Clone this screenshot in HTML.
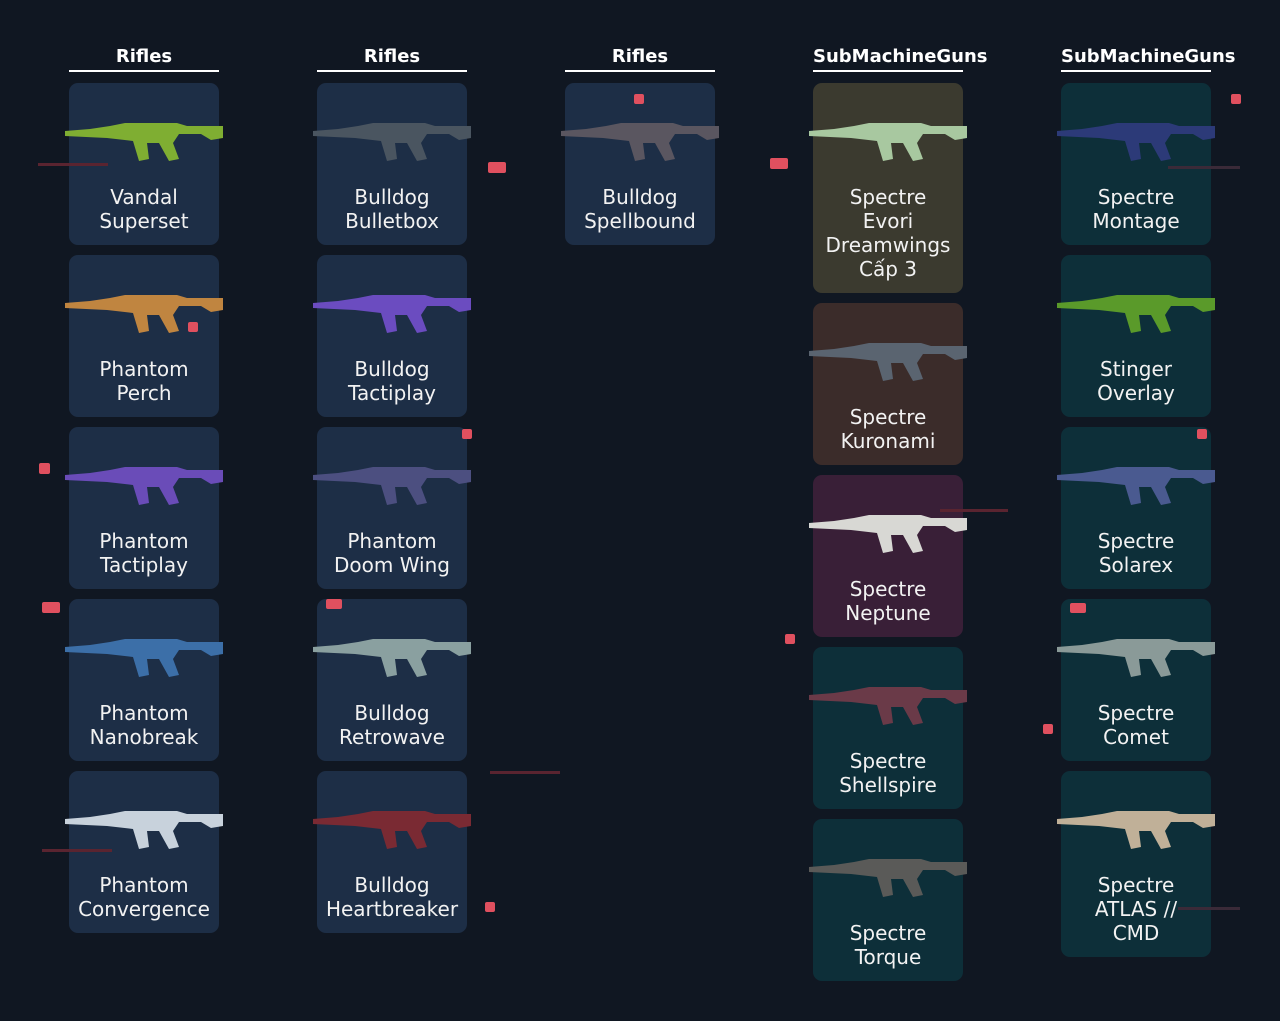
<!DOCTYPE html>
<html><head><meta charset="utf-8">
<style>
html,body{margin:0;padding:0;}
body{width:1280px;height:1021px;background:#101722;position:relative;overflow:hidden;font-family:"DejaVu Sans","Liberation Sans",sans-serif;}
.h{position:absolute;top:46px;width:150px;text-align:left;color:#fff;font-weight:bold;font-size:18px;line-height:22px;white-space:nowrap;}
.hc{text-align:center;}
.u{position:absolute;top:70px;width:150px;height:2px;background:#fff;}
.c{position:absolute;width:150px;border-radius:9px;}
.c .t{position:absolute;left:-10px;right:-10px;top:102px;text-align:center;color:#f2f2f2;font-size:20px;line-height:24px;}
.c svg{position:absolute;left:-4px;top:22px;}
.b{background:#1d2e46}.tl{background:#0d2f39}.ol{background:#3b3a2f}.br{background:#3b2c2a}.pu{background:#391f37}
.m{position:absolute;background:#e0505f;border-radius:2px;}
.l{position:absolute;height:3px;background:#5a2430;}
</style></head><body>
<svg width="0" height="0" style="position:absolute"><defs>
<path id="g" d="M0 26 L25 24 L45 21 L60 18 L112 18 L122 21 L158 21 L158 33 L146 35 L136 29 L114 29 L108 38 L114 54 L104 56 L94 38 L82 38 L84 54 L74 56 L68 36 L42 33 L0 31 Z"/>
</defs></svg>

<div class="h hc" style="left:69px">Rifles</div><div class="u" style="left:69px"></div>
<div class="h hc" style="left:317px">Rifles</div><div class="u" style="left:317px"></div>
<div class="h hc" style="left:565px">Rifles</div><div class="u" style="left:565px"></div>
<div class="h" style="left:813px">SubMachineGuns</div><div class="u" style="left:813px"></div>
<div class="h" style="left:1061px">SubMachineGuns</div><div class="u" style="left:1061px"></div>

<div class="c b" style="left:69px;top:83px;height:162px"><svg width="160" height="70"><use href="#g" fill="#7fae32"/></svg><div class="t">Vandal<br>Superset</div></div>
<div class="c b" style="left:69px;top:255px;height:162px"><svg width="160" height="70"><use href="#g" fill="#c08540"/></svg><div class="t">Phantom<br>Perch</div></div>
<div class="c b" style="left:69px;top:427px;height:162px"><svg width="160" height="70"><use href="#g" fill="#6a4cb8"/></svg><div class="t">Phantom<br>Tactiplay</div></div>
<div class="c b" style="left:69px;top:599px;height:162px"><svg width="160" height="70"><use href="#g" fill="#3c6fa8"/></svg><div class="t">Phantom<br>Nanobreak</div></div>
<div class="c b" style="left:69px;top:771px;height:162px"><svg width="160" height="70"><use href="#g" fill="#c8d2dc"/></svg><div class="t">Phantom<br>Convergence</div></div>
<div class="c b" style="left:317px;top:83px;height:162px"><svg width="160" height="70"><use href="#g" fill="#4a5560"/></svg><div class="t">Bulldog<br>Bulletbox</div></div>
<div class="c b" style="left:317px;top:255px;height:162px"><svg width="160" height="70"><use href="#g" fill="#6b4cc0"/></svg><div class="t">Bulldog<br>Tactiplay</div></div>
<div class="c b" style="left:317px;top:427px;height:162px"><svg width="160" height="70"><use href="#g" fill="#4c4f80"/></svg><div class="t">Phantom<br>Doom Wing</div></div>
<div class="c b" style="left:317px;top:599px;height:162px"><svg width="160" height="70"><use href="#g" fill="#8aa0a0"/></svg><div class="t">Bulldog<br>Retrowave</div></div>
<div class="c b" style="left:317px;top:771px;height:162px"><svg width="160" height="70"><use href="#g" fill="#7a2a33"/></svg><div class="t">Bulldog<br>Heartbreaker</div></div>
<div class="c b" style="left:565px;top:83px;height:162px"><svg width="160" height="70"><use href="#g" fill="#5a5660"/></svg><div class="t">Bulldog<br>Spellbound</div></div>
<div class="c ol" style="left:813px;top:83px;height:210px"><svg width="160" height="70"><use href="#g" fill="#a8c8a0"/></svg><div class="t">Spectre<br>Evori<br>Dreamwings<br>Cấp 3</div></div>
<div class="c br" style="left:813px;top:303px;height:162px"><svg width="160" height="70"><use href="#g" fill="#5a6470"/></svg><div class="t">Spectre<br>Kuronami</div></div>
<div class="c pu" style="left:813px;top:475px;height:162px"><svg width="160" height="70"><use href="#g" fill="#d8d8d4"/></svg><div class="t">Spectre<br>Neptune</div></div>
<div class="c tl" style="left:813px;top:647px;height:162px"><svg width="160" height="70"><use href="#g" fill="#6a3a48"/></svg><div class="t">Spectre<br>Shellspire</div></div>
<div class="c tl" style="left:813px;top:819px;height:162px"><svg width="160" height="70"><use href="#g" fill="#5a5a58"/></svg><div class="t">Spectre<br>Torque</div></div>
<div class="c tl" style="left:1061px;top:83px;height:162px"><svg width="160" height="70"><use href="#g" fill="#2c3a78"/></svg><div class="t">Spectre<br>Montage</div></div>
<div class="c tl" style="left:1061px;top:255px;height:162px"><svg width="160" height="70"><use href="#g" fill="#5a9a2a"/></svg><div class="t">Stinger<br>Overlay</div></div>
<div class="c tl" style="left:1061px;top:427px;height:162px"><svg width="160" height="70"><use href="#g" fill="#4a5a90"/></svg><div class="t">Spectre<br>Solarex</div></div>
<div class="c tl" style="left:1061px;top:599px;height:162px"><svg width="160" height="70"><use href="#g" fill="#8a9a98"/></svg><div class="t">Spectre<br>Comet</div></div>
<div class="c tl" style="left:1061px;top:771px;height:186px"><svg width="160" height="70"><use href="#g" fill="#c0b098"/></svg><div class="t">Spectre<br>ATLAS //<br>CMD</div></div>

<div class="m" style="left:39px;top:463px;width:11px;height:11px"></div>
<div class="m" style="left:42px;top:602px;width:18px;height:11px"></div>
<div class="m" style="left:488px;top:162px;width:18px;height:11px"></div>
<div class="m" style="left:770px;top:158px;width:18px;height:11px"></div>
<div class="m" style="left:634px;top:94px;width:10px;height:10px"></div>
<div class="m" style="left:1231px;top:94px;width:10px;height:10px"></div>
<div class="m" style="left:462px;top:429px;width:10px;height:10px"></div>
<div class="m" style="left:188px;top:322px;width:10px;height:10px"></div>
<div class="m" style="left:785px;top:634px;width:10px;height:10px"></div>
<div class="m" style="left:1043px;top:724px;width:10px;height:10px"></div>
<div class="m" style="left:485px;top:902px;width:10px;height:10px"></div>
<div class="m" style="left:1197px;top:429px;width:10px;height:10px"></div>
<div class="m" style="left:326px;top:599px;width:16px;height:10px"></div>
<div class="m" style="left:1070px;top:603px;width:16px;height:10px"></div>
<div class="l" style="left:38px;top:163px;width:70px"></div>
<div class="l" style="left:490px;top:771px;width:70px"></div>
<div class="l" style="left:42px;top:849px;width:70px"></div>
<div class="l" style="left:940px;top:509px;width:68px"></div>
<div class="l" style="left:1178px;top:907px;width:62px;background:#3a2a38"></div>
<div class="l" style="left:1168px;top:166px;width:72px;background:#3a2a38"></div>
</body></html>
